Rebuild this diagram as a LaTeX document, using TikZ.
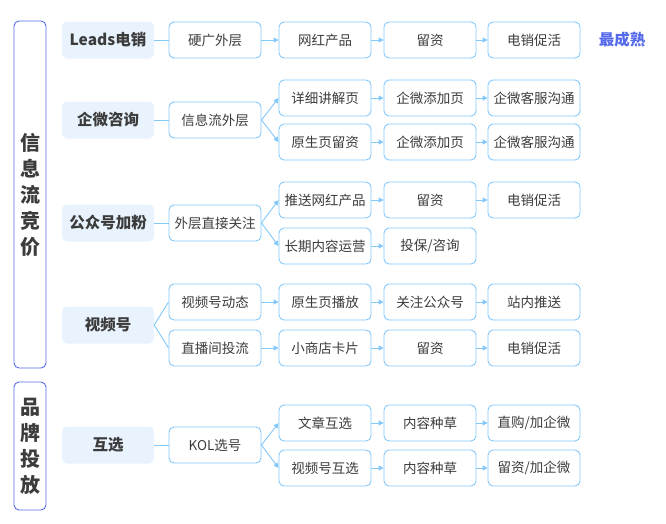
\documentclass[tikz,border=0pt]{standalone}
\usepackage{fontspec}
\setmainfont{Noto Sans CJK SC}
\usetikzlibrary{arrows.meta,positioning}
\definecolor{lineblue}{RGB}{130,200,250}
\definecolor{catfill}{RGB}{232,243,253}
\definecolor{sideblue}{RGB}{85,105,235}
\definecolor{txtgray}{RGB}{60,60,60}
\begin{document}
\begin{tikzpicture}[
    x=1pt, y=-1pt,
    step_box/.style={rectangle, rounded corners=5pt, draw=lineblue, fill=white, line width=0.9pt, minimum width=92pt, minimum height=36pt, inner sep=1pt, font=\fontsize{13.5}{14}\selectfont, text=txtgray},
    cat_node/.style={rectangle, rounded corners=5pt, fill=catfill, minimum width=92pt, minimum height=37pt, font=\bfseries\fontsize{15.5}{16}\selectfont, text=txtgray},
    side_node/.style={rectangle, rounded corners=5pt, draw=sideblue, line width=0.9pt, minimum width=32pt, align=center, font=\bfseries\fontsize{20}{26}\selectfont, text=txtgray},
    arrow/.style={draw=lineblue, line width=0.9pt, -{Triangle[length=5pt,width=5pt]}},
    link/.style={draw=lineblue, line width=0.9pt}
]
\useasboundingbox (0,0) rectangle (666,523);

% Side groups
\node[side_node, minimum height=347pt] (bid) at (30,194.5) {信\\息\\流\\竞\\价};
\node[side_node, minimum height=128pt] (brand) at (30,446) {品\\牌\\投\\放};

% Categories
\node[cat_node] (leads) at (108,40) {Leads电销};
\node[cat_node] (qw) at (108,120) {企微咨询};
\node[cat_node] (gzh) at (108,223) {公众号加粉};
\node[cat_node] (sph) at (108,325) {视频号};
\node[cat_node] (hx) at (108,445) {互选};

% First step
\node[step_box] (l1) at (215,40) {硬广外层};
\node[step_box] (q1) at (215,120) {信息流外层};
\node[step_box] (g1) at (215,223) {外层直接关注};
\node[step_box] (s1a) at (215,302) {视频号动态};
\node[step_box] (s1b) at (215,348) {直播间投流};
\node[step_box] (h1) at (215,445) {KOL选号};

% Second step
\node[step_box] (l2) at (325,40) {网红产品};
\node[step_box] (q2a) at (325,98) {详细讲解页};
\node[step_box] (q2b) at (325,142) {原生页留资};
\node[step_box] (g2a) at (325,200) {推送网红产品};
\node[step_box] (g2b) at (325,246) {长期内容运营};
\node[step_box] (s2a) at (325,302) {原生页播放};
\node[step_box] (s2b) at (325,348) {小商店卡片};
\node[step_box] (h2a) at (325,423) {文章互选};
\node[step_box] (h2b) at (325,468) {视频号互选};

% Third step
\node[step_box] (l3) at (430,40) {留资};
\node[step_box] (q3a) at (430,98) {企微添加页};
\node[step_box] (q3b) at (430,142) {企微添加页};
\node[step_box] (g3a) at (430,200) {留资};
\node[step_box] (g3b) at (430,246) {投保/咨询};
\node[step_box] (s3a) at (430,302) {关注公众号};
\node[step_box] (s3b) at (430,348) {留资};
\node[step_box] (h3a) at (430,423) {内容种草};
\node[step_box] (h3b) at (430,468) {内容种草};

% Fourth step
\node[step_box] (l4) at (534,40) {电销促活};
\node[step_box] (q4a) at (534,98) {企微客服沟通};
\node[step_box] (q4b) at (534,142) {企微客服沟通};
\node[step_box] (g4a) at (534,200) {电销促活};
\node[step_box] (s4a) at (534,302) {站内推送};
\node[step_box] (s4b) at (534,348) {电销促活};
\node[step_box] (h4a) at (534,423) {直购/加企微};
\node[step_box] (h4b) at (534,468) {留资/加企微};

\node[font=\bfseries\fontsize{15.5}{16}\selectfont, text=sideblue] (mature) at (622,40) {最成熟};

% Links
\draw[link] (leads) -- (l1);
\draw[link] (qw) -- (q1);
\draw[link] (gzh) -- (g1);
\draw[link] (sph.east) -- (s1a.west);
\draw[link] (sph.east) -- (s1b.west);
\draw[link] (hx) -- (h1);

\draw[arrow] (l1) -- (l2);
\draw[arrow] (l2) -- (l3);
\draw[arrow] (l3) -- (l4);
\foreach \a/\b in {q1/q2a,q1/q2b,g1/g2a,g1/g2b,h1/h2a,h1/h2b}
  \draw[arrow] (\a.east) -- (\b.west);
\foreach \a/\b/\c in {q2a/q3a/q4a,q2b/q3b/q4b,g2a/g3a/g4a,s1a/s2a/s3a,s1b/s2b/s3b,h2a/h3a/h4a,h2b/h3b/h4b}{
  \draw[arrow] (\a) -- (\b);
  \draw[arrow] (\b) -- (\c);
}
\draw[arrow] (g2b) -- (g3b);
\draw[arrow] (s3a) -- (s4a);
\draw[arrow] (s3b) -- (s4b);
\end{tikzpicture}
\end{document}
